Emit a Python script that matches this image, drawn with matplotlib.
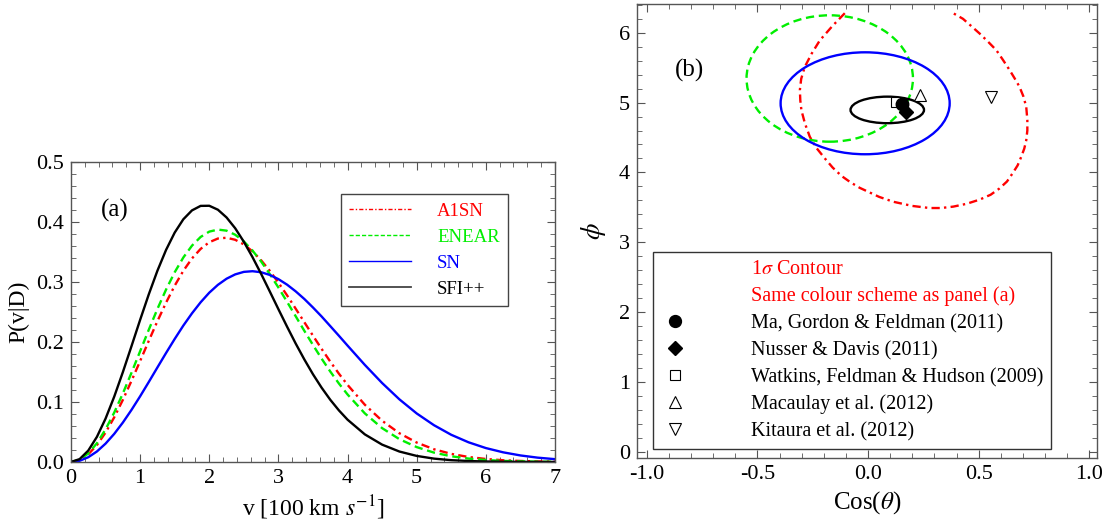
import numpy as np
import matplotlib
matplotlib.use("Agg")
import matplotlib.pyplot as plt
from matplotlib.lines import Line2D
from matplotlib.patches import Ellipse
from matplotlib.ticker import MultipleLocator, FormatStrFormatter

plt.rcParams['font.family'] = ['Liberation Serif', 'DejaVu Serif']
plt.rcParams['mathtext.fontset'] = 'stix'

# ---- panel (a): velocity distributions ----
v = [0.0, 0.125, 0.25, 0.375, 0.5, 0.625, 0.75, 0.875, 1.0, 1.125, 1.25,
     1.375, 1.5, 1.625, 1.75, 1.875, 2.0, 2.125, 2.25, 2.375, 2.5, 2.625,
     2.75, 2.875, 3.0, 3.125, 3.25, 3.375, 3.5, 3.625, 3.75, 3.875, 4.0,
     4.25, 4.5, 4.75, 5.0, 5.25, 5.5, 5.75, 6.0, 6.25, 6.5, 6.75, 7.0]
p_a1sn = [0.0, 0.0032, 0.0127, 0.0282, 0.0490, 0.0744, 0.1035, 0.1352,
          0.1683, 0.2019, 0.2347, 0.2656, 0.2939, 0.3187, 0.3393, 0.3552,
          0.3663, 0.3725, 0.3738, 0.3704, 0.3627, 0.3511, 0.3362, 0.3187,
          0.2989, 0.2778, 0.2555, 0.2330, 0.2105, 0.1885, 0.1673, 0.1472,
          0.1285, 0.0954, 0.0687, 0.0479, 0.0324, 0.0212, 0.0135, 0.0083,
          0.0050, 0.0029, 0.0017, 0.0009, 0.0005]
p_enear = [0.0, 0.0036, 0.0142, 0.0313, 0.0543, 0.0823, 0.1142, 0.1487,
           0.1846, 0.2204, 0.2551, 0.2874, 0.3163, 0.3409, 0.3606, 0.3751,
           0.3840, 0.3874, 0.3856, 0.3788, 0.3676, 0.3525, 0.3342, 0.3133,
           0.2908, 0.2670, 0.2429, 0.2186, 0.1950, 0.1722, 0.1508, 0.1308,
           0.1125, 0.0810, 0.0564, 0.0380, 0.0248, 0.0156, 0.0095, 0.0057,
           0.0033, 0.0018, 0.0010, 0.0005, 0.0003]
p_sn = [0.0, 0.0020, 0.0079, 0.0175, 0.0306, 0.0468, 0.0657, 0.0868,
        0.1095, 0.1333, 0.1576, 0.1817, 0.2051, 0.2274, 0.2478, 0.2662,
        0.2822, 0.2953, 0.3055, 0.3127, 0.3169, 0.3180, 0.3163, 0.3118,
        0.3048, 0.2956, 0.2844, 0.2717, 0.2575, 0.2425, 0.2265, 0.2104,
        0.1940, 0.1618, 0.1316, 0.1044, 0.0809, 0.0613, 0.0453, 0.0328,
        0.0232, 0.0161, 0.0109, 0.0072, 0.0047]
p_sfi = [0.0, 0.0048, 0.0190, 0.0419, 0.0723, 0.1088, 0.1497, 0.1930,
         0.2369, 0.2794, 0.3188, 0.3535, 0.3824, 0.4046, 0.4194, 0.4269,
         0.4271, 0.4205, 0.4076, 0.3896, 0.3671, 0.3415, 0.3136, 0.2843,
         0.2547, 0.2256, 0.1974, 0.1709, 0.1462, 0.1238, 0.1037, 0.0860,
         0.0705, 0.0460, 0.0289, 0.0174, 0.0101, 0.0056, 0.0030, 0.0016,
         0.0008, 0.0004, 0.0002, 0.0001, 0.0000]
names_a = ['A1SN', 'ENEAR', 'SN', 'SFI++']

# ---- panel (b): 1-sigma contours and dipole directions ----
# ellipses: (centre x, centre y, full width, full height)
ell_sn = (-0.013, 4.99, 0.764, 1.46)
ell_sfi = (0.087, 4.895, 0.332, 0.38)
ell_enear = (-0.173, 5.345, 0.752, 1.81)
# A1SN contour is open at phi = 2 pi, traced point by point
a1sn_x = [-0.105, -0.16, -0.218, -0.255, -0.286, -0.302, -0.308, -0.306,
          -0.301, -0.285, -0.263, -0.233, -0.195, -0.16, -0.12, -0.08, -0.038,
          0.05, 0.114, 0.20, 0.278, 0.33, 0.385, 0.445, 0.504, 0.554, 0.594,
          0.628, 0.654, 0.676, 0.692, 0.706, 0.715, 0.72, 0.72, 0.715, 0.702,
          0.684, 0.662, 0.639, 0.61, 0.58, 0.543, 0.504, 0.465, 0.429, 0.385]
a1sn_y = [6.28, 6.10, 5.89, 5.70, 5.51, 5.34, 5.18, 5.03, 4.89, 4.70, 4.51,
          4.35, 4.20, 4.07, 3.95, 3.86, 3.78, 3.65, 3.58, 3.52, 3.49, 3.49,
          3.51, 3.55, 3.61, 3.68, 3.77, 3.87, 3.99, 4.10, 4.22, 4.34, 4.46,
          4.60, 4.75, 4.94, 5.09, 5.23, 5.35, 5.47, 5.61, 5.75, 5.87, 5.99,
          6.10, 6.20, 6.28]

pts_label = ['Ma, Gordon & Feldman (2011)', 'Nusser & Davis (2011)',
             'Watkins, Feldman & Hudson (2009)', 'Macaulay et al. (2012)',
             'Kitaura et al. (2012)']
pts_x = [0.153, 0.173, 0.128, 0.236, 0.557]
pts_y = [4.98, 4.87, 5.01, 5.11, 5.08]

RED, GREEN, BLUE, BLACK = '#ff0000', '#00ee00', '#0000ff', '#000000'
FRAME = '#555555'

fig = plt.figure(figsize=(11.04, 5.29), dpi=100)
ax1 = fig.add_axes([0.0643, 0.1267, 0.4384, 0.567])
ax2 = fig.add_axes([0.577, 0.1342, 0.4167, 0.858])


def style_axes(ax):
    for s in ax.spines.values():
        s.set_color(FRAME)
        s.set_linewidth(1.0)
    ax.tick_params(which='both', direction='in', top=True, right=True,
                   color=FRAME, labelsize=16, pad=5)
    ax.tick_params(which='major', length=6, width=0.8)
    ax.tick_params(which='minor', length=3.5, width=0.6)


# panel (a)
ax1.plot(v, p_a1sn, color=RED, lw=1.7, ls=(0, (3.5, 1.8, 1.0, 1.8)))
ax1.plot(v, p_enear, color=GREEN, lw=1.7, ls=(0, (3.5, 2.0)))
ax1.plot(v, p_sn, color=BLUE, lw=1.7)
ax1.plot(v, p_sfi, color=BLACK, lw=1.7)
ax1.set_xlim(0, 7)
ax1.set_ylim(0, 0.5)
ax1.xaxis.set_major_locator(MultipleLocator(1))
ax1.xaxis.set_minor_locator(MultipleLocator(0.2))
ax1.yaxis.set_major_locator(MultipleLocator(0.1))
ax1.yaxis.set_minor_locator(MultipleLocator(0.02))
ax1.yaxis.set_major_formatter(FormatStrFormatter('%.1f'))
style_axes(ax1)
ax1.set_xlabel(r'v [100 km $s^{-1}$]', fontsize=17, labelpad=4)
ax1.set_ylabel('P(v|D)', fontsize=17, labelpad=5)
ax1.text(0.64, 0.419, '(a)', fontsize=18, ha='center', va='center')

h_a = [Line2D([], [], color=RED, lw=1.0, ls=(0, (3, 1.5, 1, 1.5))),
       Line2D([], [], color=GREEN, lw=1.0, ls=(0, (3, 1.5))),
       Line2D([], [], color=BLUE, lw=1.0),
       Line2D([], [], color='#444444', lw=1.3)]
leg1 = ax1.legend(h_a, names_a, loc='upper left', bbox_to_anchor=(0.557, 0.893),
                  borderaxespad=0, fontsize=13.5, handlelength=3.3,
                  handletextpad=1.4, labelspacing=0.47, borderpad=0.45,
                  fancybox=False, framealpha=1, edgecolor='#444444',
                  labelcolor=[RED, GREEN, BLUE, BLACK])
leg1.get_frame().set_linewidth(1.0)

# panel (b)
ax2.plot(a1sn_x, a1sn_y, color=RED, lw=1.7, ls=(0, (3.5, 1.8, 1.0, 1.8)), zorder=2)
for (cx, cy, w, h), col, ls in [(ell_enear, GREEN, (0, (3.5, 2.0))),
                                (ell_sn, BLUE, '-'),
                                (ell_sfi, BLACK, '-')]:
    ax2.add_patch(Ellipse((cx, cy), w, h, fill=False, edgecolor=col, lw=1.7,
                          ls=ls, zorder=2))

marker_style = [dict(marker='o', ms=9, mfc='k', mec='k'),
                dict(marker='D', ms=7, mfc='k', mec='k'),
                dict(marker='s', ms=7.5, mfc='white', mec='k', mew=0.8),
                dict(marker='^', ms=8.5, mfc='white', mec='k', mew=0.8),
                dict(marker='v', ms=8.5, mfc='white', mec='k', mew=0.8)]
order = [2, 0, 1, 3, 4]
for i in order:
    ax2.plot([pts_x[i]], [pts_y[i]], ls='none', zorder=4, **marker_style[i])

ax2.set_xlim(-1.044, 1.035)
ax2.set_ylim(-0.09, 6.41)
ax2.xaxis.set_major_locator(MultipleLocator(0.5))
ax2.xaxis.set_minor_locator(MultipleLocator(0.1))
ax2.xaxis.set_major_formatter(FormatStrFormatter('%.1f'))
ax2.yaxis.set_major_locator(MultipleLocator(1))
ax2.yaxis.set_minor_locator(MultipleLocator(0.2))
style_axes(ax2)
ax2.set_xlabel(r'Cos($\theta$)', fontsize=18, labelpad=4)
ax2.set_ylabel(r'$\phi$', fontsize=19, labelpad=8)
ax2.text(-0.809, 5.455, '(b)', fontsize=18, ha='center', va='center')

blank = Line2D([], [], ls='none')
h_b = [blank, blank]
for st in marker_style:
    s = dict(st)
    s['ms'] = s['ms'] * 0.95
    h_b.append(Line2D([], [], ls='none', **s))
labels_b = [r'1$\sigma$ Contour', 'Same colour scheme as panel (a)'] + pts_label
leg2 = ax2.legend(h_b, labels_b, loc='upper left', bbox_to_anchor=(0.0354, 0.4544),
                  borderaxespad=0, fontsize=14.5, handlelength=1.35,
                  handletextpad=3.1, labelspacing=0.38, borderpad=0.4,
                  numpoints=1, fancybox=False, framealpha=1, edgecolor='#333333',
                  labelcolor=[RED, RED] + [BLACK] * 5)
leg2.get_frame().set_linewidth(1.0)

fig.savefig('out.png', dpi=100)
